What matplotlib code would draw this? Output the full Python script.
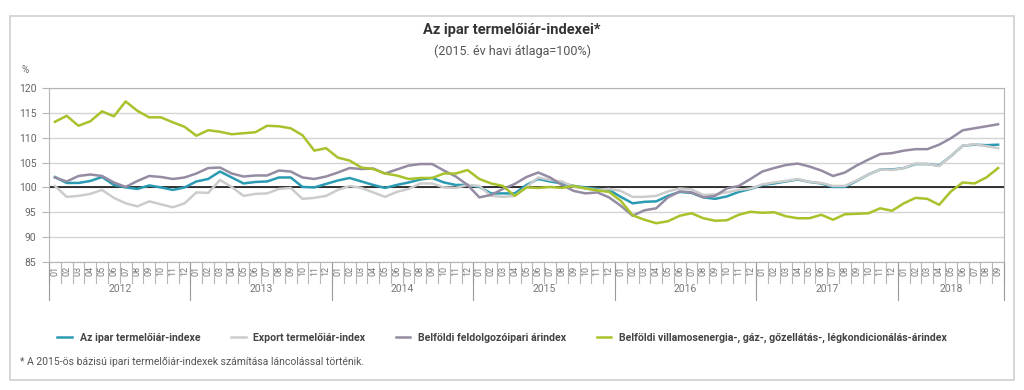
import matplotlib
matplotlib.use('Agg')
import matplotlib.pyplot as plt
from matplotlib.patches import Rectangle
import matplotlib.transforms as mtransforms

plt.rcParams['font.family'] = ['Roboto', 'DejaVu Sans']

# --- adatok (2012.01 - 2018.09, havi) ---
years = ['2012', '2013', '2014', '2015', '2016', '2017', '2018']
months_per_year = [12, 12, 12, 12, 12, 12, 9]

ipar = [
    102.1, 100.9, 100.9, 101.3, 102.1, 100.5, 100.0, 99.7, 100.4, 100.0, 99.5, 100.0,
    101.2, 101.7, 103.2, 102.0, 100.8, 101.1, 101.2, 102.0, 102.0, 100.1, 100.0, 100.7,
    101.4, 101.9, 101.2, 100.5, 99.9, 100.5, 101.0, 101.6, 101.9, 101.0, 100.5, 100.5,
    100.1, 98.8, 98.8, 98.8, 100.5, 101.7, 101.2, 100.8, 100.3, 100.0, 99.7, 99.5,
    98.1, 96.8, 97.1, 97.2, 98.3, 99.1, 98.9, 98.0, 97.7, 98.2, 99.1, 99.7,
    100.5, 100.8, 101.2, 101.6, 101.1, 100.8, 100.1, 100.1, 101.3, 102.6, 103.6, 103.6,
    103.9, 104.7, 104.7, 104.4, 106.3, 108.4, 108.6, 108.5, 108.6,
]
export = [
    100.3, 98.1, 98.3, 98.7, 99.5, 97.9, 96.8, 96.2, 97.2, 96.6, 96.0, 96.8,
    99.0, 98.9, 101.5, 100.1, 98.3, 98.7, 98.8, 99.7, 99.9, 97.7, 97.9, 98.3,
    99.5, 100.3, 99.9, 99.0, 98.1, 99.1, 99.7, 100.8, 100.8, 100.0, 99.9, 100.5,
    100.3, 98.3, 98.1, 98.3, 100.1, 102.0, 101.5, 101.2, 100.1, 99.8, 99.5, 99.7,
    99.3, 98.1, 98.1, 98.3, 99.2, 99.8, 99.6, 98.5, 98.6, 99.0, 99.5, 99.8,
    100.6, 101.0, 101.3, 101.7, 101.1, 100.9, 100.3, 100.3, 101.4, 102.6, 103.6, 103.5,
    103.9, 104.8, 104.7, 104.3, 106.3, 108.4, 108.7, 108.3, 107.9,
]
feldolgozo = [
    102.0, 101.2, 102.3, 102.6, 102.3, 101.0, 100.1, 101.3, 102.3, 102.1, 101.7, 102.0,
    102.8, 103.9, 104.0, 102.8, 102.2, 102.4, 102.4, 103.4, 103.2, 102.0, 101.7, 102.2,
    103.0, 103.9, 103.7, 103.8, 102.8, 103.6, 104.4, 104.7, 104.7, 103.4, 102.2, 100.5,
    98.0, 98.5, 99.7, 100.7, 102.1, 103.0, 102.0, 100.5, 99.3, 98.8, 99.0, 98.0,
    96.3, 94.3, 95.4, 95.8, 98.0, 99.2, 99.0, 98.0, 98.3, 99.8, 100.3, 101.7,
    103.2, 103.9, 104.5, 104.8, 104.2, 103.4, 102.3, 103.0, 104.4, 105.6, 106.7, 106.9,
    107.4, 107.7, 107.7, 108.6, 109.9, 111.5, 111.9, 112.3, 112.7,
]
villamos = [
    113.2, 114.4, 112.4, 113.3, 115.3, 114.3, 117.3, 115.4, 114.1, 114.1, 113.1, 112.2,
    110.4, 111.5, 111.2, 110.7, 110.9, 111.1, 112.4, 112.3, 111.9, 110.5, 107.4, 107.9,
    106.0, 105.4, 104.0, 103.7, 102.8, 102.4, 101.7, 101.9, 101.9, 102.8, 102.8, 103.5,
    101.7, 100.8, 100.3, 98.3, 100.0, 99.9, 100.1, 99.9, 100.3, 99.8, 99.4, 99.1,
    97.3, 94.4, 93.5, 92.8, 93.2, 94.3, 94.8, 93.8, 93.3, 93.4, 94.5, 95.1,
    94.9, 95.0, 94.2, 93.8, 93.8, 94.5, 93.5, 94.6, 94.7, 94.8, 95.8, 95.3,
    96.8, 97.9, 97.7, 96.5, 99.2, 101.0, 100.8, 102.0, 103.9,
]

labels = ['Az ipar termelőiár-indexe', 'Export termelőiár-index',
          'Belföldi feldolgozóipari árindex',
          'Belföldi villamosenergia-, gáz-, gőzellátás-, légkondicionálás-árindex']
colors = ['#2b9bb3', '#cccccc', '#958ca3', '#a8c22c']

fig = plt.figure(figsize=(10.24, 3.9), dpi=100)
fig.patches.append(Rectangle((10 / 1024, 1 - 380 / 390), 1004 / 1024, 364 / 390,
                             transform=fig.transFigure, facecolor='white',
                             edgecolor='#cfcfcf', linewidth=1.2, zorder=-1))

ax = fig.add_axes([49 / 1024, 1 - 262 / 390, 955 / 1024, 174 / 390])

n = len(ipar)
x = list(range(n))
for series, lab, col in zip([ipar, export, feldolgozo, villamos], labels, colors):
    ax.plot(x, series, color=col, lw=1.8, label=lab, zorder=3)

ax.axhline(100, color='black', lw=1.1, zorder=2)
ax.set_xlim(-0.5, n - 0.5)
ax.set_ylim(85, 120)
ax.set_yticks(range(85, 121, 5))
ax.grid(axis='y', color='#d4d4d4', lw=1)
ax.set_axisbelow(True)
for s in ['top', 'right', 'left', 'bottom']:
    ax.spines[s].set_color('#b5b5b5')
ax.tick_params(axis='y', colors='#b5b5b5', labelcolor='#666666', labelsize=7.5,
               length=5, pad=4)

# honapok
month_names = []
for ny in months_per_year:
    month_names += ['%02d' % (m + 1) for m in range(ny)]
ax.set_xticks(x)
ax.set_xticklabels(month_names, rotation=90, fontsize=6.5, color='#777777')
ax.tick_params(axis='x', length=0, pad=3)

trans = mtransforms.blended_transform_factory(ax.transData, ax.transAxes)
for k in range(n + 1):
    ax.plot([k - 0.5, k - 0.5], [0, -21 / 174], transform=trans, color='#b5b5b5',
            lw=0.8, clip_on=False)
starts = [0]
for ny in months_per_year:
    starts.append(starts[-1] + ny)
for s in starts:
    ax.plot([s - 0.5, s - 0.5], [0, -38 / 174], transform=trans, color='#9a9a9a',
            lw=0.8, clip_on=False)
for yr, a, b in zip(years, starts[:-1], starts[1:]):
    ax.text((a + b - 1) / 2, -27 / 174, yr, transform=trans, ha='center', va='center',
            fontsize=7.5, color='#777777')

fig.text(512 / 1024, 1 - 30 / 390, 'Az ipar termelőiár-indexei*', ha='center',
         va='center', fontsize=10.5, fontweight='bold', color='#333333')
fig.text(512 / 1024, 1 - 51 / 390, '(2015. év havi átlaga=100%)', ha='center',
         va='center', fontsize=9, color='#555555')
fig.text(25 / 1024, 1 - 70 / 390, '%', ha='center', va='center', fontsize=7,
         color='#666666')

leg = fig.legend(loc='center', bbox_to_anchor=(502 / 1024, 1 - 338 / 390), ncol=4,
                 frameon=False, fontsize=7.6, handlelength=1.4, handletextpad=0.7,
                 columnspacing=2.9)
for t in leg.get_texts():
    t.set_color('#444444')
    t.set_fontweight('bold')

fig.text(20 / 1024, 1 - 362 / 390,
         '* A 2015-ös bázisú ipari termelőiár-indexek számítása láncolással történik.',
         ha='left', va='center', fontsize=7.5, color='#555555')

fig.savefig('out.png', dpi=100)
